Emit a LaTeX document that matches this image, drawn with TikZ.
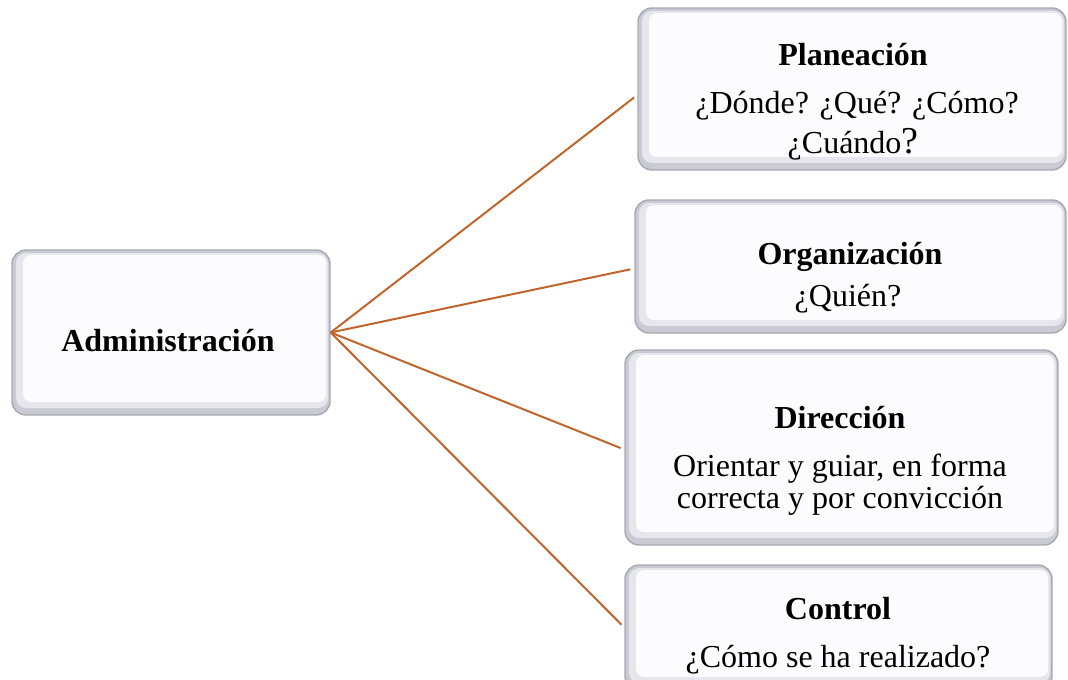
\documentclass[tikz,border=0pt]{standalone}
\usepackage{fontspec}
\setmainfont{Liberation Serif}
\definecolor{conncol}{HTML}{C0652B}
\definecolor{bevelgray}{HTML}{CACAD4}
\definecolor{bevelmid}{HTML}{E6E6EC}
\definecolor{edgegray}{HTML}{A8A8B0}
\definecolor{innerwhite}{HTML}{FCFCFE}
\tikzset{
  box/.style={draw=edgegray, line width=0.7pt, fill=bevelgray, rounded corners=7pt, inner sep=0pt,
    path picture={
      \fill[bevelmid, rounded corners=5pt] ([shift={(4,3)}]path picture bounding box.north west) rectangle ([shift={(-2,-7)}]path picture bounding box.south east);
      \fill[innerwhite, rounded corners=4pt] ([shift={(11,5)}]path picture bounding box.north west) rectangle ([shift={(-4,-13)}]path picture bounding box.south east);
    }},
  ttl/.style={anchor=base, inner sep=0pt, font=\fontsize{16}{19}\selectfont\bfseries},
  txt/.style={anchor=base, inner sep=0pt, font=\fontsize{16}{19}\selectfont},
  conn/.style={draw=conncol, line width=1pt, shorten >=2pt}
}
\begin{document}
\begin{tikzpicture}[x=0.5pt, y=-0.5pt]
\useasboundingbox (0,0) rectangle (1068,679);
\begin{scope}
\clip (0,0) rectangle (1068,679);
\node[box, minimum width=159pt, minimum height=82.5pt] (adm) at (171,332.5) {};
\node[box, minimum width=214pt, minimum height=81pt] (pla) at (852,89) {};
\node[box, minimum width=215.5pt, minimum height=66.5pt] (org) at (850.5,266.5) {};
\node[box, minimum width=216.5pt, minimum height=97.5pt] (dir) at (841.5,447.5) {};
\node[box, minimum width=213.5pt, minimum height=62.5pt] (con) at (838.5,627.5) {};
\end{scope}

\node[ttl] (admt) at (168,351) {Administración};

\node[ttl] (plat) at (853,66) {Planeación};
\node[txt] (pla1) at (857,114) {¿Dónde? ¿Qué? ¿Cómo?};
\node[txt] (pla2) at (853,154) {¿Cuándo{\fontsize{19}{19}\selectfont ?}};

\node[ttl] (orgt) at (850,264) {Organización};
\node[txt] (org1) at (848,306) {¿Quién?};

\node[ttl] (dirt) at (840,428) {Dirección};
\node[txt] (dir1) at (840,476) {Orientar y guiar, en forma};
\node[txt] (dir2) at (840,508) {correcta y por convicción};

\node[ttl] (cont) at (838,619) {Control};
\node[txt] (con1) at (838,667) {¿Cómo se ha realizado?};

\coordinate (hub) at (adm.east);
\draw[conn] (hub) -- ([yshift=-3pt]pla.west);
\draw[conn] (hub) -- ([yshift=-1pt]org.west);
\draw[conn] (hub) -- ([yshift=-1pt]dir.west);
\draw[conn] (hub) -- ([yshift=0pt]con.west);
\end{tikzpicture}
\end{document}
